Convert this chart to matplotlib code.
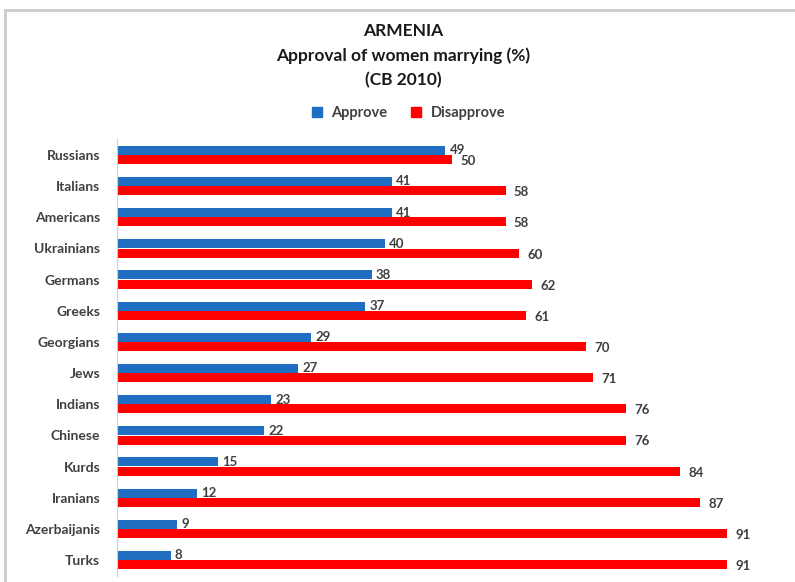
import matplotlib.pyplot as plt
import numpy as np
from matplotlib.lines import Line2D

# data (top to bottom)
groups = ['Russians', 'Italians', 'Americans', 'Ukrainians', 'Germans', 'Greeks',
          'Georgians', 'Jews', 'Indians', 'Chinese', 'Kurds', 'Iranians',
          'Azerbaijanis', 'Turks']
approve = [49, 41, 41, 40, 38, 37, 29, 27, 23, 22, 15, 12, 9, 8]
disapprove = [50, 58, 58, 60, 62, 61, 70, 71, 76, 76, 84, 87, 91, 91]
title_lines = ['ARMENIA', 'Approval of women marrying (%)', '(CB 2010)']

plt.rcParams['font.family'] = ['Lato', 'DejaVu Sans']

blue = '#1F6EC2'
red = '#FF0000'
txt = '#404040'

fig = plt.figure(figsize=(7.95, 5.82), dpi=100)
ax = fig.add_axes([0.1472, 0.011, 0.8428, 0.7495])

y = np.arange(len(groups))
h = 0.29
ax.barh(y - 0.15, approve, height=h, color=blue, label='Approve')
ax.barh(y + 0.15, disapprove, height=h, color=red, label='Disapprove')

# value labels next to the bar ends
for i in range(len(groups)):
    ax.annotate(str(approve[i]), (approve[i], y[i] - 0.15), xytext=(3, 0),
                textcoords='offset points', va='center', ha='left',
                fontsize=9.5, fontweight='bold', color=txt)
    ax.annotate(str(disapprove[i]), (disapprove[i], y[i] + 0.15), xytext=(6, -1),
                textcoords='offset points', va='center', ha='left',
                fontsize=9.5, fontweight='bold', color=txt)

ax.set_xlim(0, 100)
ax.set_ylim(len(groups) - 0.5, -0.5)
ax.set_yticks(y)
ax.set_yticklabels(groups, fontsize=10, fontweight='bold', color=txt)
ax.set_xticks([])
ax.tick_params(axis='y', length=0, pad=12)
for s in ['top', 'right', 'bottom']:
    ax.spines[s].set_visible(False)
ax.spines['left'].set_color('#D0D0D0')

# title
for k, line in enumerate(title_lines):
    fig.text(0.507, 1 - (31 + 24.5 * k) / 582, line, ha='center', va='center',
             fontsize=12.5, fontweight='bold', color='#1A1A1A')

handles = [Line2D([], [], marker='s', ls='', color=blue, markersize=6.5),
           Line2D([], [], marker='s', ls='', color=red, markersize=6.5)]
fig.legend(handles, ['Approve', 'Disapprove'], loc='center',
           bbox_to_anchor=(0.508, 1 - 113 / 582), ncol=2, frameon=False,
           handletextpad=0.0, columnspacing=1.0,
           prop={'size': 10.5, 'weight': 'bold'}, labelcolor=txt)

# faint frame along top and left edges
fig.add_artist(Line2D([5 / 795, 1], [1 - 9.5 / 582, 1 - 9.5 / 582], color='#CCCCCC', lw=2))
fig.add_artist(Line2D([5 / 795, 5 / 795], [0, 1 - 9.5 / 582], color='#CCCCCC', lw=2))

fig.savefig('out.png', dpi=100)
